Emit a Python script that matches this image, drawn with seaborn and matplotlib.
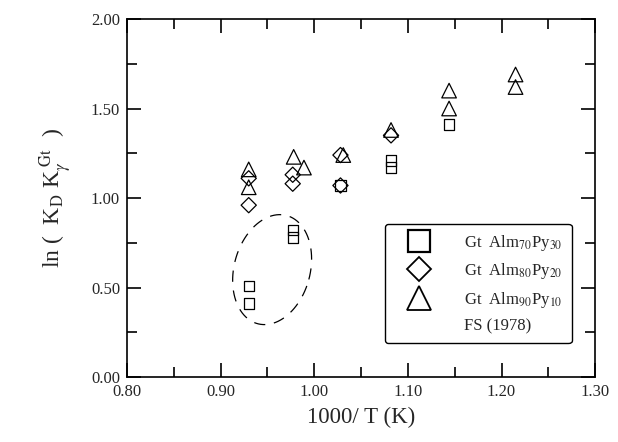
import numpy as np
import pandas as pd
import matplotlib
matplotlib.use("Agg")
import matplotlib.pyplot as plt
from matplotlib.lines import Line2D
import seaborn as sns

# data
sq_x = [0.930, 0.930, 0.977, 0.977, 1.028, 1.082, 1.082, 1.144]
sq_y = [0.51, 0.41, 0.82, 0.78, 1.07, 1.21, 1.17, 1.41]
di_x = [0.930, 0.930, 0.977, 0.977, 1.028, 1.028, 1.082]
di_y = [1.11, 0.96, 1.13, 1.08, 1.24, 1.07, 1.35]
tr_x = [0.930, 0.930, 0.978, 0.989, 1.031, 1.082, 1.144, 1.144, 1.215, 1.215]
tr_y = [1.16, 1.06, 1.23, 1.17, 1.24, 1.38, 1.60, 1.50, 1.69, 1.62]

labels = [r"Gt  Alm$_{70}$Py$_{30}$", r"Gt  Alm$_{80}$Py$_{20}$", r"Gt  Alm$_{90}$Py$_{10}$"]

df = pd.DataFrame({
    "x": sq_x + di_x + tr_x,
    "y": sq_y + di_y + tr_y,
    "grp": ["sq"] * len(sq_x) + ["di"] * len(di_x) + ["tr"] * len(tr_x),
})

sns.set_style("ticks")
plt.rcParams["font.family"] = ["Liberation Serif", "DejaVu Serif"]
plt.rcParams["mathtext.fontset"] = "stix"

fig = plt.figure(figsize=(6.18, 4.42), dpi=100)
ax = fig.add_axes([0.2055, 0.147, 0.7575, 0.81])

marks = {"sq": "s", "di": "D", "tr": "^"}
sizes = {"sq": 55, "di": 60, "tr": 110}
for g in ["sq", "di", "tr"]:
    sub = df[df["grp"] == g]
    sns.scatterplot(data=sub, x="x", y="y", marker=marks[g], s=sizes[g],
                    facecolors="none", edgecolor="black", linewidth=0.9,
                    ax=ax, legend=False)

# dashed ellipse around the low points
t = np.linspace(0, 2 * np.pi, 200)
a, b, ang = 38, 56, np.deg2rad(-15)
px = a * np.cos(t) * np.cos(ang) - b * np.sin(t) * np.sin(ang)
py = a * np.cos(t) * np.sin(ang) + b * np.sin(t) * np.cos(ang)
ax.plot(0.955 + px / 936, 0.60 + py / 179, color="black", lw=0.9,
        linestyle=(0, (9, 7)))

ax.set_xlim(0.80, 1.30)
ax.set_ylim(0.00, 2.00)
ax.set_xticks(np.arange(0.80, 1.301, 0.10))
ax.set_xticks(np.arange(0.85, 1.30, 0.10), minor=True)
ax.set_yticks(np.arange(0.0, 2.01, 0.50))
ax.set_yticks(np.arange(0.25, 2.0, 0.50), minor=True)
ax.set_xticklabels([f"{v:.2f}" for v in np.arange(0.80, 1.301, 0.10)])
ax.set_yticklabels([f"{v:.2f}" for v in np.arange(0.0, 2.01, 0.50)])
ax.tick_params(which="both", direction="in", top=True, right=True,
               width=1.2, labelsize=12, color="black")
ax.tick_params(which="major", length=10, pad=5)
ax.tick_params(which="minor", length=7)
for s in ax.spines.values():
    s.set_visible(True)
    s.set_linewidth(1.2)
    s.set_color("black")

ax.set_xlabel("1000/ T (K)", fontsize=16.5, labelpad=5)
ax.set_ylabel(r"ln (  K$_\mathrm{D}$ K$_\gamma^{\ \mathrm{Gt}}$  )", fontsize=17, labelpad=12)

handles = [
    Line2D([], [], marker="s", ls="none", ms=16, mfc="none", mec="black", mew=1.6),
    Line2D([], [], marker="D", ls="none", ms=12, mfc="none", mec="black", mew=1.3),
    Line2D([], [], marker="^", ls="none", ms=17, mfc="none", mec="black", mew=1.3),
    Line2D([], [], ls="none"),
]
leg = ax.legend(handles, labels + ["FS (1978)"], loc="upper left",
                bbox_to_anchor=(0.551, 0.428), frameon=True, fancybox=True,
                fontsize=12, labelspacing=0.5, handletextpad=1.2,
                borderpad=0.55, handlelength=3.0, borderaxespad=0)
leg.get_frame().set_edgecolor("black")
leg.get_frame().set_linewidth(1.0)
leg.get_frame().set_alpha(1)

fig.savefig("out.png", dpi=100)
